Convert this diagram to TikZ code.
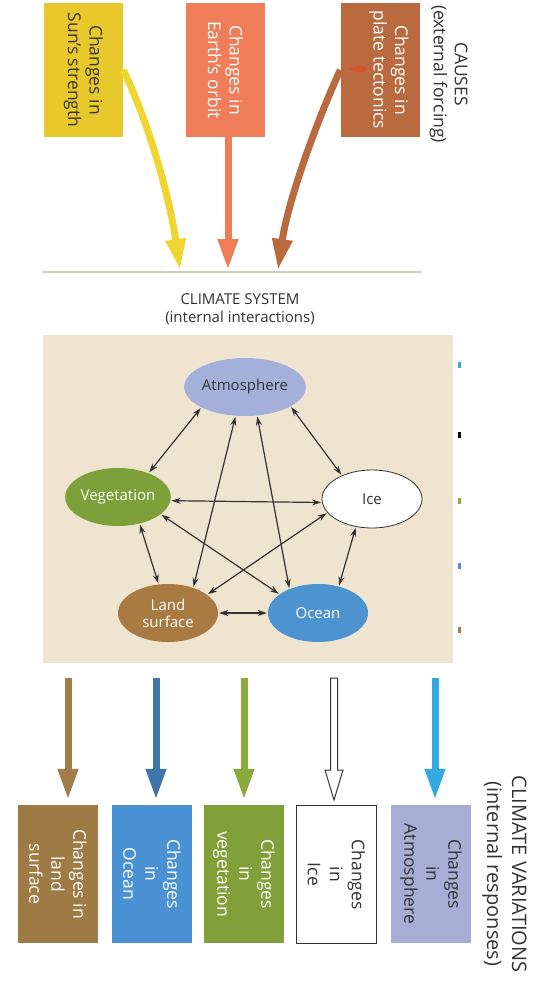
\documentclass[tikz,border=0pt]{standalone}
\usepackage{fontspec}
\setmainfont{Open Sans}
\usetikzlibrary{shapes.geometric,arrows.meta,calc}
\definecolor{cyellow}{HTML}{E9C82B}
\definecolor{cyellowarr}{HTML}{EED52F}
\definecolor{corange}{HTML}{EF7D5A}
\definecolor{cplate}{HTML}{B96A3F}
\definecolor{cdark}{HTML}{3A3520}
\definecolor{cbeige}{HTML}{EEE4CF}
\definecolor{catm}{HTML}{A5B0DA}
\definecolor{cveg}{HTML}{7EA03A}
\definecolor{cland}{HTML}{A97B42}
\definecolor{cocean}{HTML}{4C93D0}
\definecolor{clandbox}{HTML}{9E7A45}
\definecolor{coceanbox}{HTML}{4A92D3}
\definecolor{cvegbox}{HTML}{82A03A}
\definecolor{catmbox}{HTML}{A6AED6}
\definecolor{coceanarr}{HTML}{3D76A8}
\definecolor{catmarr}{HTML}{33A9E1}
\definecolor{cvegarr}{HTML}{8AAA3A}
\definecolor{clandarr}{HTML}{A27D4A}
\definecolor{cgray}{HTML}{333333}
\definecolor{cline}{HTML}{C8D0BC}
\definecolor{cred}{HTML}{D9502A}
\tikzset{
  causebox/.style={rotate=-90, minimum width=134pt, minimum height=79pt, inner sep=0pt,
    align=center, font=\fontsize{17.5}{21.5}\selectfont},
  respbox/.style={rotate=-90, minimum width=138pt, minimum height=80pt, inner sep=0pt,
    align=center, font=\fontsize{17.5}{22}\selectfont},
  sphere/.style={ellipse, minimum width=100pt, minimum height=58pt, inner sep=0pt,
    align=center, font=\fontsize{15}{17}\selectfont},
  fatarrow/.style={line width=7pt, -{Triangle[length=31pt,width=19pt]}},
  netarrow/.style={cgray, line width=1.2pt, {Stealth[length=9pt,width=6pt]}-{Stealth[length=9pt,width=6pt]},
    shorten <=1pt, shorten >=1pt},
  heading/.style={align=center, text=cgray, inner sep=0pt}
}
\begin{document}
\begin{tikzpicture}[x=1pt,y=-1pt]
\useasboundingbox (0,0) rectangle (542,987);
\fill[white] (0,0) rectangle (542,987);

% ---------- causes ----------
\node[causebox, fill=cyellow, text=cdark] (sun) at (83.5,70) {Changes in\\Sun’s strength};
\node[causebox, fill=corange, text=white] (orbit) at (225.5,70) {Changes in\\Earth’s orbit};
\node[causebox, fill=cplate] (plate) at (380,70) {};
\node[rotate=-90, align=center, inner sep=0pt, font=\fontsize{17.5}{21.5}\selectfont, text=white]
  (platetext) at (389,70) {Changes in\\plate tectonics};
\fill[cred] (349,69) .. controls (355,67) and (359,65) .. (363,65.5)
  .. controls (367,66.5) and (367,71.5) .. (363,72.5)
  .. controls (359,73) and (355,71) .. (349,69);
\node[heading, rotate=-90, font=\fontsize{17.5}{21}\selectfont] (causes) at (448.5,74)
  {CAUSES\\(external forcing)};

\coordinate (lineL) at (43,272);
\coordinate (lineR) at (421,272);
\draw[cline, line width=1.5pt] (lineL) -- (lineR);
\coordinate (t1) at (180,270);
\coordinate (t2) at (228,270);
\coordinate (t3) at (278,270);
\draw[fatarrow, cyellowarr] (sun.north) .. controls (150,125) and (170,200) .. (t1);
\draw[fatarrow, corange] (orbit.east -| t2) -- (t2);
\draw[fatarrow, cplate] (plate.south) .. controls (318,118) and (288,200) .. (t3);

% ---------- climate system ----------
\node[heading, font=\fontsize{15}{18}\selectfont] (systitle) at (240,309)
  {CLIMATE SYSTEM\\(internal interactions)};
\fill[cbeige] (43,335) rectangle (453,663);

\node[sphere, fill=catm, text=cgray] (atm) at (245,387) {Atmosphere};
\node[sphere, fill=cveg, text=white] (veg) at (118,497) {Vegetation};
\node[sphere, fill=white, draw=cgray, line width=0.8pt, text=cgray] (ice) at (372,499) {Ice};
\node[sphere, fill=cland, text=white] (land) at (168,613) {Land\\surface};
\node[sphere, fill=cocean, text=white] (ocean) at (318,613) {Ocean};

\draw[netarrow] (atm.205) -- (veg.38);
\draw[netarrow] (atm.337) -- (ice.142);
\draw[netarrow] (atm.252) -- (land.45);
\draw[netarrow] (atm.293) -- (ocean.140);
\draw[netarrow] (veg.-4) -- (ice.184);
\draw[netarrow] (veg.309) -- (land.108);
\draw[netarrow] (veg.338) -- (ocean.154);
\draw[netarrow] (ice.197) -- (land.25);
\draw[netarrow] (ice.240) -- (ocean.52);
\draw[netarrow] (land.0) -- (ocean.180);

% small marks at the panel edge
\fill[catmarr] (458,362) rectangle (461,368);
\fill[black] (458,432) rectangle (461,438);
\fill[cvegarr] (458,498) rectangle (461,504);
\fill[coceanbox] (458,563) rectangle (461,569);
\fill[clandarr] (458,627) rectangle (461,633);

% ---------- responses ----------
\node[respbox, fill=clandbox, text=white] (rland) at (58,874) {Changes in\\land\\surface};
\node[respbox, fill=coceanbox, text=white] (rocean) at (152,874) {Changes\\in\\Ocean};
\node[respbox, fill=cvegbox, text=white] (rveg) at (244,874) {Changes\\in\\vegetation};
\node[respbox, fill=white, draw=cgray, line width=1pt, text=cgray] (rice) at (336.5,874.5) {Changes\\in\\Ice};
\node[respbox, fill=catmbox, text=cgray] (ratm) at (431,874) {Changes\\in\\Atmosphere};

\coordinate (b1) at (68,678);
\coordinate (b2) at (156,678);
\coordinate (b3) at (244,678);
\coordinate (b4) at (334,678);
\coordinate (b5) at (435,678);
\draw[fatarrow, clandarr, shorten >=5pt] (b1) -- (b1 |- rland.west);
\draw[fatarrow, coceanarr, shorten >=5pt] (b2) -- (b2 |- rocean.west);
\draw[fatarrow, cvegarr, shorten >=5pt] (b3) -- (b3 |- rveg.west);
\draw[fatarrow, catmarr, shorten >=5pt] (b5) -- (b5 |- ratm.west);
\draw[cgray, line width=1pt, fill=white, line join=miter]
  (b4) ++(-3.5,0) -- ++(0,92) -- ++(-5.5,0) -- ++(9,30) -- ++(9,-30) -- ++(-5.5,0) -- ++(0,-92) -- cycle;

\node[heading, rotate=-90, font=\fontsize{20}{25}\selectfont] (vartitle) at (504.5,874)
  {CLIMATE VARIATIONS\\(internal responses)};
\end{tikzpicture}
\end{document}
